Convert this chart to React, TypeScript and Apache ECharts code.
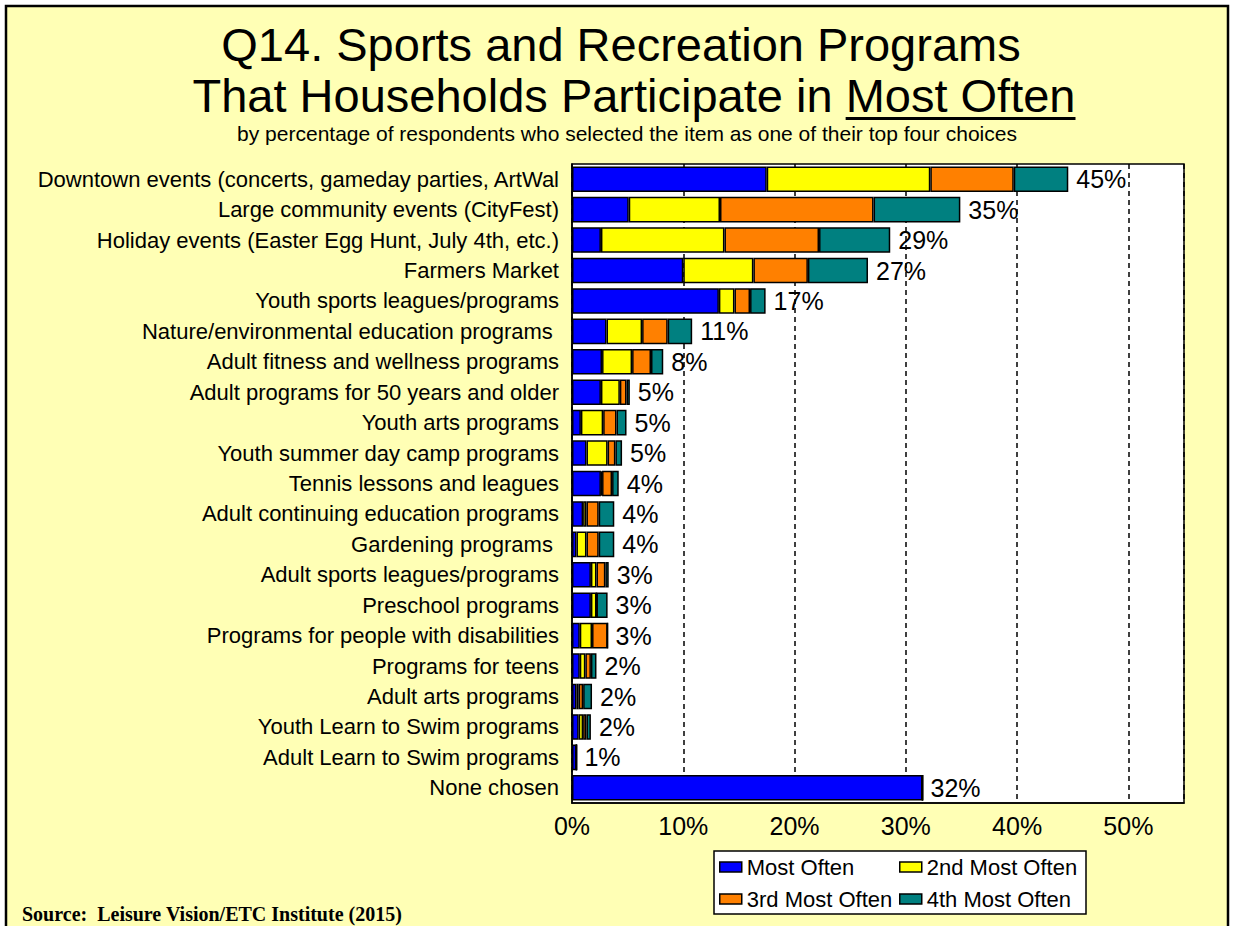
import React, { useEffect, useRef } from "react";
import * as echarts from "echarts";

const categories = [
  "Downtown events (concerts, gameday parties, ArtWal",
  "Large community events (CityFest)",
  "Holiday events (Easter Egg Hunt, July 4th, etc.)",
  "Farmers Market",
  "Youth sports leagues/programs",
  "Nature/environmental education programs ",
  "Adult fitness and wellness programs",
  "Adult programs for 50 years and older",
  "Youth arts programs",
  "Youth summer day camp programs",
  "Tennis lessons and leagues",
  "Adult continuing education programs",
  "Gardening programs ",
  "Adult sports leagues/programs",
  "Preschool programs",
  "Programs for people with disabilities",
  "Programs for teens",
  "Adult arts programs",
  "Youth Learn to Swim programs",
  "Adult Learn to Swim programs",
  "None chosen",
];

const mostOften = [17.5, 5.1, 2.6, 10.0, 13.2, 3.1, 2.7, 2.6, 0.8, 1.3, 2.6, 1.0, 0.4, 1.7, 1.7, 0.7, 0.7, 0.4, 0.6, 0.4, 31.5];
const secondMostOften = [14.7, 8.2, 11.1, 6.3, 1.4, 3.2, 2.7, 1.7, 2.0, 1.9, 0.1, 0.3, 0.9, 0.5, 0.5, 1.1, 0.5, 0.2, 0.4, 0, 0];
const thirdMostOften = [7.5, 13.8, 8.5, 4.9, 1.4, 2.3, 1.7, 0.6, 1.2, 0.7, 0.9, 1.1, 1.1, 0.8, 0, 1.4, 0.5, 0.4, 0.3, 0, 0];
const fourthMostOften = [4.9, 7.8, 6.4, 5.4, 1.4, 2.2, 1.1, 0.3, 0.9, 0.6, 0.6, 1.4, 1.4, 0.3, 1.0, 0, 0.5, 0.8, 0.4, 0, 0];
const totalLabels = [45, 35, 29, 27, 17, 11, 8, 5, 5, 5, 4, 4, 4, 3, 3, 3, 2, 2, 2, 1, 32];

const seriesNames = ["Most Often", "2nd Most Often", "3rd Most Often", "4th Most Often"];
const seriesColors = ["#0000FF", "#FFFF00", "#FF8000", "#008080"];

const titleLine1 = "Q14. Sports and Recreation Programs";
const titleLine2a = "That Households Participate in ";
const titleLine2b = "Most Often";
const subtitle = "by percentage of respondents who selected the item as one of their top four choices";
const sourceText = "Source:  Leisure Vision/ETC Institute (2015)";

const SANS = "Arial, 'Liberation Sans', sans-serif";
const SERIF = "'Times New Roman', 'Liberation Serif', serif";

function measure(text: string, font: string): number {
  const c = document.createElement("canvas").getContext("2d");
  if (!c) return text.length * 20;
  c.font = font;
  return c.measureText(text).width;
}

export default function App() {
  const ref = useRef<HTMLDivElement>(null);

  useEffect(() => {
    document.body.style.margin = "0";
    if (!ref.current) return;
    const chart = echarts.init(ref.current, null, { renderer: "svg" });

    const titleFont = `47px ${SANS}`;
    const w1 = measure(titleLine2a, titleFont);
    const w2 = measure(titleLine2b, titleFont);
    const line2Start = 634 - (w1 + w2) / 2;

    const seriesData = [mostOften, secondMostOften, thirdMostOften, fourthMostOften];
    const barSeries: any[] = seriesData.map((d, i) => ({
      name: seriesNames[i],
      type: "bar",
      stack: "total",
      data: d,
      barCategoryGap: "16%",
      itemStyle: { color: seriesColors[i], borderColor: "#000", borderWidth: 1.5 },
      emphasis: { disabled: true },
      silent: true,
    }));
    barSeries.push({
      name: "Total",
      type: "bar",
      stack: "total",
      data: categories.map(() => 0),
      itemStyle: { color: "transparent", borderWidth: 0 },
      label: {
        show: true,
        position: "right",
        distance: 8,
        formatter: (p: any) => `${totalLabels[p.dataIndex]}%`,
        fontSize: 25,
        fontFamily: SANS,
        color: "#000",
      },
      emphasis: { disabled: true },
      silent: true,
    });

    const legendCommon = {
      orient: "vertical",
      top: 856,
      itemWidth: 22,
      itemHeight: 10,
      itemGap: 10,
      padding: 0,
      icon: "rect",
      selectedMode: false,
      itemStyle: { borderColor: "#000", borderWidth: 1.5 },
      textStyle: { fontSize: 22, color: "#000", fontFamily: SANS },
    };

    const option: any = {
      animation: false,
      backgroundColor: "#ffffff",
      grid: {
        left: 572,
        right: 49,
        top: 164,
        bottom: 123,
        show: true,
        backgroundColor: "#ffffff",
        borderColor: "#000",
        borderWidth: 1.5,
      },
      xAxis: {
        type: "value",
        min: 0,
        max: 55,
        interval: 10,
        axisLine: { show: true, lineStyle: { color: "#000", width: 1.5 } },
        axisTick: { show: false },
        axisLabel: {
          formatter: "{value}%",
          fontSize: 25,
          fontFamily: SANS,
          color: "#000",
          margin: 10,
          showMaxLabel: false,
        },
        splitLine: { show: true, lineStyle: { color: "#000", width: 1.5, type: [5, 4] } },
      },
      yAxis: {
        type: "category",
        data: categories,
        inverse: true,
        axisLine: { show: true, lineStyle: { color: "#000", width: 1.5 } },
        axisTick: { show: false },
        axisLabel: { fontSize: 22, fontFamily: SANS, color: "#000", margin: 13 },
      },
      legend: [
        { ...legendCommon, left: 719, data: [seriesNames[0], seriesNames[2]] },
        { ...legendCommon, left: 899, data: [seriesNames[1], seriesNames[3]] },
      ],
      graphic: [
        {
          type: "rect",
          z: -1,
          silent: true,
          shape: { x: 6, y: 6, width: 1222, height: 940 },
          style: { fill: "#FFFFB5", stroke: "#000", lineWidth: 2.5 },
        },
        {
          type: "text",
          z: 10,
          silent: true,
          style: {
            text: titleLine1,
            x: 621,
            y: 44,
            font: titleFont,
            fill: "#000",
            textAlign: "center",
            textVerticalAlign: "middle",
            verticalAlign: "middle",
          },
        },
        {
          type: "text",
          z: 10,
          silent: true,
          style: {
            text: titleLine2a,
            x: line2Start,
            y: 95,
            font: titleFont,
            fill: "#000",
            textAlign: "left",
            textVerticalAlign: "middle",
            verticalAlign: "middle",
          },
        },
        {
          type: "text",
          z: 10,
          silent: true,
          style: {
            text: titleLine2b,
            x: line2Start + w1,
            y: 95,
            font: titleFont,
            fill: "#000",
            textAlign: "left",
            textVerticalAlign: "middle",
            verticalAlign: "middle",
          },
        },
        {
          type: "line",
          z: 10,
          silent: true,
          shape: { x1: line2Start + w1, y1: 118.5, x2: line2Start + w1 + w2, y2: 118.5 },
          style: { stroke: "#000", lineWidth: 3 },
        },
        {
          type: "text",
          z: 10,
          silent: true,
          style: {
            text: subtitle,
            x: 627,
            y: 133,
            font: `21px ${SANS}`,
            fill: "#000",
            textAlign: "center",
            textVerticalAlign: "middle",
            verticalAlign: "middle",
          },
        },
        {
          type: "rect",
          z: 1,
          silent: true,
          shape: { x: 714, y: 851, width: 372, height: 63 },
          style: { fill: "#ffffff", stroke: "#000", lineWidth: 1.5 },
        },
        {
          type: "text",
          z: 10,
          silent: true,
          style: {
            text: sourceText,
            x: 22,
            y: 914,
            font: `bold 20px ${SERIF}`,
            fill: "#000",
            textAlign: "left",
            textVerticalAlign: "middle",
            verticalAlign: "middle",
          },
        },
      ],
      series: barSeries,
    };

    chart.setOption(option);
    return () => chart.dispose();
  }, []);

  return <div ref={ref} style={{ width: 1233, height: 926 }} />;
}
